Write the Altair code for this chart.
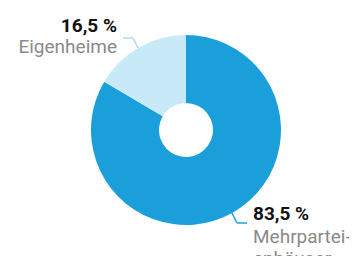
import altair as alt
import pandas as pd

categories = ["Mehrpartei-\nenhäuser", "Eigenheime"]
shares = [83.5, 16.5]
value_labels = ["83,5 %", "16,5 %"]
colors = ["#1a9fdb", "#c8e9f8"]

df = pd.DataFrame({"cat": categories, "share": shares, "order": [0, 1],
                   "vlabel": value_labels})

# layout (chart coordinates, origin at page offset 8px)
cx, cy = 178, 122
label_pos = {
    "Eigenheime": dict(x=109, y_val=24, y_name=45, align="right"),
    "Mehrpartei-\nenhäuser": dict(x=245, y_val=212, y_name=235, align="left"),
}

donut = alt.Chart(df).mark_arc(outerRadius=95, innerRadius=27).encode(
    theta=alt.Theta("share:Q", stack=True),
    order=alt.Order("order:Q"),
    color=alt.Color("cat:N", scale=alt.Scale(domain=categories, range=colors), legend=None),
    x=alt.value(cx), y=alt.value(cy),
)

layers = [donut]
for cat, vl, col in zip(categories, value_labels, colors):
    p = label_pos[cat]
    sub = df[df.cat == cat]
    layers.append(alt.Chart(sub).mark_text(
        font="Roboto", fontWeight="bold", fontSize=19, color="#111111",
        align=p["align"], baseline="alphabetic").encode(
        text="vlabel:N", x=alt.value(p["x"]), y=alt.value(p["y_val"])))
    layers.append(alt.Chart(sub).mark_text(
        font="Roboto", fontSize=19, color="#8a8a8a", lineBreak="\n", lineHeight=22,
        align=p["align"], baseline="alphabetic").encode(
        text="cat:N", x=alt.value(p["x"]), y=alt.value(p["y_name"])))

# leader lines
seg_df = pd.DataFrame({"k": [0]})
segs = [
    (115, 30, 125, 30, "#a9dbf3"),
    (125, 30, 130, 40, "#a9dbf3"),
    (224, 205, 229, 215, "#1a9fdb"),
    (229, 215, 239, 215, "#1a9fdb"),
]
for x1, y1, x2, y2, c in segs:
    layers.append(alt.Chart(seg_df).mark_rule(color=c, strokeWidth=1.5).encode(
        x=alt.value(x1), y=alt.value(y1), x2=alt.value(x2), y2=alt.value(y2)))

chart = alt.layer(*layers).properties(
    width=341, height=248, autosize=alt.AutoSizeParams(type="none"), padding=0
).configure_view(stroke=None)

chart.save("out.html", embed_options={"renderer": "svg", "actions": False})
